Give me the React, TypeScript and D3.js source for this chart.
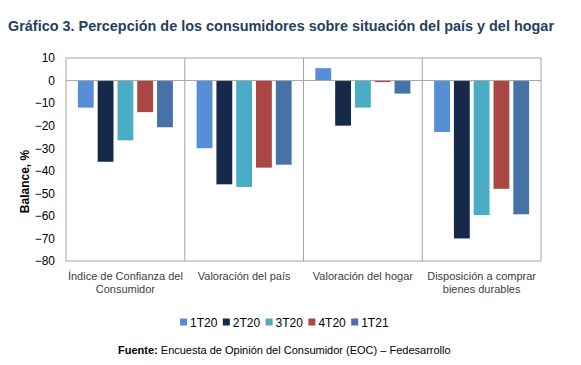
import { useEffect, useRef } from 'react';
import * as d3 from 'd3';

const categories = [
  ['Índice de Confianza del', 'Consumidor'],
  ['Valoración del país'],
  ['Valoración del hogar'],
  ['Disposición a comprar', 'bienes durables'],
];
const seriesNames = ['1T20', '2T20', '3T20', '4T20', '1T21'];
const colors = ['#558ED5', '#17294A', '#4BACC6', '#AA4643', '#4572A7'];
const v1T20 = [-12, -30, 5.5, -22.8];
const v2T20 = [-36, -46, -20, -70];
const v3T20 = [-26.5, -47.2, -12, -59.6];
const v4T20 = [-14, -38.6, -0.7, -48];
const v1T21 = [-20.7, -37.3, -5.8, -59.3];
const yTicks = [10, 0, -10, -20, -30, -40, -50, -60, -70, -80];

const W = 581;
const H = 365;

const App = () => {
  const svgRef = useRef<SVGSVGElement>(null);

  useEffect(() => {
    const svg = d3.select(svgRef.current);
    svg.selectAll('*').remove();

    const margin = { top: 58, right: 40, bottom: 104, left: 66 };
    const innerWidth = W - margin.left - margin.right;
    const innerHeight = H - margin.top - margin.bottom;
    const font = 'Liberation Sans, Arial, sans-serif';
    const series = [v1T20, v2T20, v3T20, v4T20, v1T21];

    // Title
    svg
      .append('text')
      .attr('x', 8)
      .attr('y', 31)
      .attr('textLength', 546)
      .attr('lengthAdjust', 'spacingAndGlyphs')
      .style('font-family', font)
      .style('font-size', '15px')
      .style('font-weight', 'bold')
      .style('fill', '#243F60')
      .text('Gráfico 3. Percepción de los consumidores sobre situación del país y del hogar');

    const g = svg.append('g').attr('transform', `translate(${margin.left},${margin.top})`);

    const x0 = d3
      .scaleBand()
      .domain(categories.map((_, i) => String(i)))
      .range([0, innerWidth]);
    const x1 = d3
      .scaleBand()
      .domain(seriesNames)
      .range([0, x0.bandwidth()])
      .paddingInner(0.2)
      .paddingOuter(0.6);
    const y = d3.scaleLinear().domain([-80, 10]).range([innerHeight, 0]);

    // Y axis labels
    g.append('g')
      .call(d3.axisLeft(y).tickValues(yTicks).tickSize(0).tickPadding(11))
      .call(a => a.select('.domain').remove())
      .selectAll('text')
      .style('font-family', font)
      .style('font-size', '12px')
      .style('fill', '#000');

    // Y axis title
    g.append('text')
      .attr('transform', 'rotate(-90)')
      .attr('x', -innerHeight / 2 - 22)
      .attr('y', -37)
      .style('text-anchor', 'middle')
      .style('font-family', font)
      .style('font-size', '12px')
      .style('font-weight', 'bold')
      .text('Balance, %');

    // Bars
    categories.forEach((_, ci) => {
      const gx = x0(String(ci)) ?? 0;
      seriesNames.forEach((s, si) => {
        const v = series[si][ci];
        g.append('rect')
          .attr('x', gx + (x1(s) ?? 0))
          .attr('y', y(Math.max(0, v)))
          .attr('width', x1.bandwidth())
          .attr('height', Math.abs(y(v) - y(0)))
          .attr('fill', colors[si]);
      });
    });

    // Plot border, zero line and group separators
    g.append('rect')
      .attr('width', innerWidth)
      .attr('height', innerHeight)
      .attr('fill', 'none')
      .attr('stroke', '#A6A6A6')
      .attr('stroke-width', 1);
    g.append('line')
      .attr('x1', 0)
      .attr('x2', innerWidth)
      .attr('y1', y(0))
      .attr('y2', y(0))
      .attr('stroke', '#A6A6A6');
    categories.slice(1).forEach((_, i) => {
      const sx = x0(String(i + 1)) ?? 0;
      g.append('line')
        .attr('x1', sx)
        .attr('x2', sx)
        .attr('y1', 0)
        .attr('y2', innerHeight)
        .attr('stroke', '#A6A6A6');
    });

    // Category labels
    categories.forEach((lines, ci) => {
      const cx = (x0(String(ci)) ?? 0) + x0.bandwidth() / 2;
      const t = g
        .append('text')
        .attr('x', cx)
        .attr('y', innerHeight + 19)
        .style('text-anchor', 'middle')
        .style('font-family', font)
        .style('font-size', '11px')
        .style('fill', '#404040');
      lines.forEach((l, li) => {
        t.append('tspan').attr('x', cx).attr('dy', li === 0 ? 0 : 13).text(l);
      });
    });

    // Legend
    const legend = svg.append('g').attr('transform', 'translate(180,322)');
    seriesNames.forEach((s, i) => {
      const item = legend.append('g').attr('transform', `translate(${i * 42.8},0)`);
      item.append('rect').attr('x', 0).attr('y', -3.5).attr('width', 7).attr('height', 7).attr('fill', colors[i]);
      item
        .append('text')
        .attr('x', 10)
        .attr('y', 4.5)
        .style('font-family', font)
        .style('font-size', '12px')
        .style('fill', '#000')
        .text(s);
    });

    // Source
    const src = svg
      .append('text')
      .attr('x', 118)
      .attr('y', 354)
      .style('font-family', font)
      .style('font-size', '11px')
      .style('fill', '#000');
    src.append('tspan').style('font-weight', 'bold').text('Fuente:');
    src.append('tspan').text(' Encuesta de Opinión del Consumidor (EOC) – Fedesarrollo');
  }, []);

  return (
    <div style={{ width: W, height: H, margin: -8, background: '#fff' }}>
      <svg ref={svgRef} width={W} height={H} style={{ display: 'block' }} />
    </div>
  );
};

export default App;
